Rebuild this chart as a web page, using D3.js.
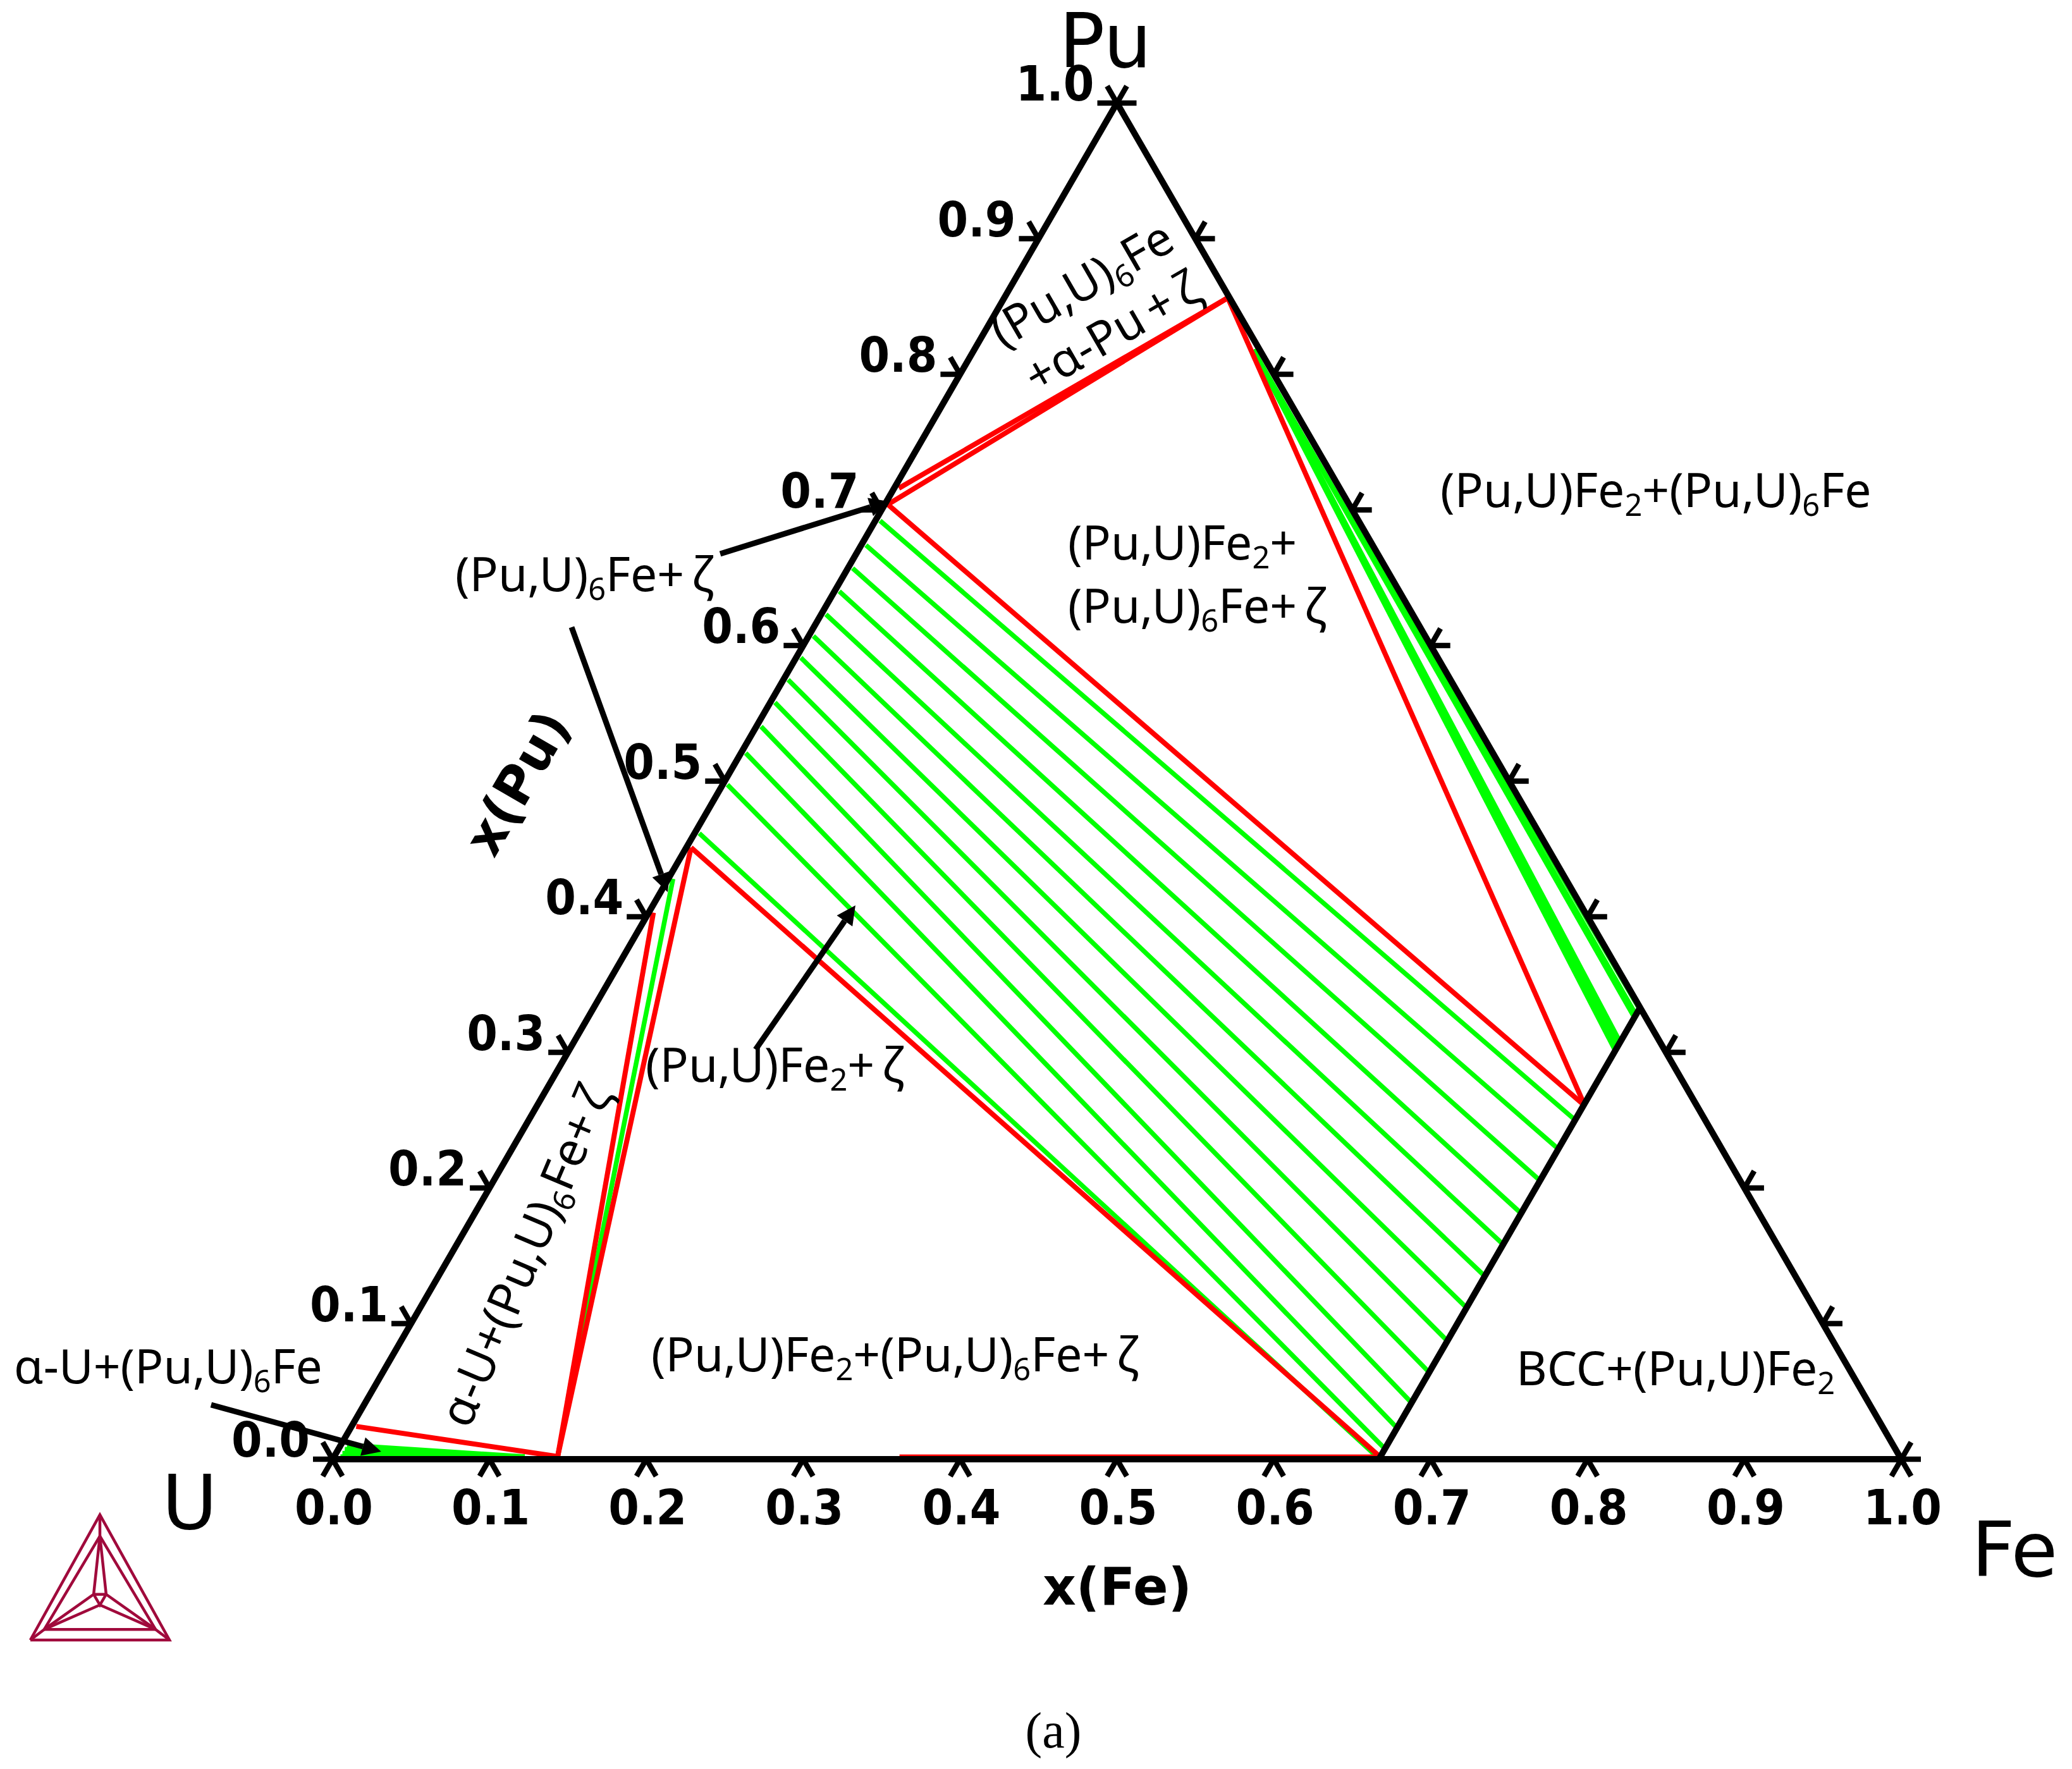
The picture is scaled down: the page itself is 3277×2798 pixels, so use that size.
<!DOCTYPE html>
<html>
<head>
<meta charset="utf-8">
<script src="https://cdn.jsdelivr.net/npm/d3@7"></script>
<style>
  html, body { margin: 0; padding: 0; background: #fff; }
  svg { display: block; }
</style>
</head>
<body>
<svg id="chart"></svg>
<script>
// values, all in mole fraction
const tick_values = [0, 0.1, 0.2, 0.3, 0.4, 0.5, 0.6, 0.7, 0.8, 0.9, 1];

// big three phase band: tie lines from the U-Pu edge to the fe=2/3 line
const band_left_pu = [0.4615, 0.4974, 0.5207, 0.5403, 0.558, 0.5748, 0.591, 0.607, 0.623, 0.64, 0.657, 0.674, 0.692];
const band_right_pu = [0.001, 0.0084, 0.0238, 0.0424, 0.0648, 0.088, 0.1124, 0.1357, 0.1591, 0.182, 0.2061, 0.2294, 0.2508];

// tie lines fanning down the U-free edge, they end on the fe=2/3 line
const fan_right_pu = [0.3025, 0.3055, 0.3085, 0.3265, 0.329, 0.3325];
const fan_widths = [8, 8, 8, 6.5, 6.5, 5];

// small wedge at the U corner
const wedge_left_pu = [0.0105, 0.0075, 0.0045, 0.002];

// other tie lines, [fe, pu] pairs
const green_ties = [[[0.003, 0.428], [0.1425, 0.002]]];

const red_lines = [
  [[0.003, 0.0242], [0.1425, 0.002]],
  [[0.003, 0.403], [0.1425, 0.002]],
  [[0.003, 0.451], [0.1425, 0.002]],
  [[0.003, 0.451], [0.6665, 0.002]],
  [[0.002, 0.704], [0.668, 0.2606]],
  [[0.1425, 0.8564], [0.668, 0.2606]],
  [[0.1425, 0.8564], [0.003, 0.716]],
  [[0.1425, 0.8564], [0.002, 0.704]],
  [[0.36, 0.0028], [0.667, 0.0028]]
];

const frame_lines = [
  [[0, 0], [0, 1]],
  [[0, 1], [1, 0]],
  [[0.667, 0], [0.667, 0.333]]
];

// leader arrows, [fe, pu] start and tip
const arrows = [
  [[-0.0975, 0.0401], [0.0282, 0.0056]],
  [[-0.0867, 0.6676], [0.0012, 0.7063]],
  [[-0.1544, 0.6135], [0.0045, 0.4182]],
  [[0.1186, 0.3021], [0.1291, 0.4084]]
];

// '_' marks a subscript digit
const labels = [
  {text: '(Pu,U)_6Fe', x: 1724, y: 472, rot: -30, anchor: 'middle'},
  {text: '+α-Pu + ζ', x: 1772, y: 548, rot: -30, anchor: 'middle'},
  {text: '(Pu,U)Fe_2+', x: 1689, y: 885},
  {text: '(Pu,U)_6Fe+ ζ', x: 1689, y: 985},
  {text: '(Pu,U)Fe_2+(Pu,U)_6Fe', x: 2278, y: 802},
  {text: '(Pu,U)_6Fe+ ζ', x: 720, y: 935},
  {text: 'α-U+(Pu,U)_6Fe', x: 22, y: 2188},
  {text: 'α-U+(Pu,U)_6Fe+ ζ', x: 742, y: 2262, rot: -67},
  {text: '(Pu,U)Fe_2+ ζ', x: 1021, y: 1711},
  {text: '(Pu,U)Fe_2+(Pu,U)_6Fe+ ζ', x: 1030, y: 2169},
  {text: 'BCC+(Pu,U)Fe_2', x: 2398, y: 2191}
];

// thermo-calc logo, unit coordinates
const logo_lines = [
  [[0, 1], [0.5, 0], [1, 1], [0, 1]],
  [[0.1, 0.915], [0.5, 0.17], [0.9, 0.915], [0.1, 0.915]],
  [[0, 1], [0.1, 0.915]],
  [[1, 1], [0.9, 0.915]],
  [[0.5, 0], [0.5, 0.17]],
  [[0.5, 0.17], [0.455, 0.635], [0.545, 0.635], [0.5, 0.17]],
  [[0.455, 0.635], [0.5, 0.72], [0.545, 0.635]],
  [[0.1, 0.915], [0.455, 0.635]],
  [[0.1, 0.915], [0.5, 0.72]],
  [[0.9, 0.915], [0.545, 0.635]],
  [[0.9, 0.915], [0.5, 0.72]]
];

const W = 3277, H = 2798;
const svg = d3.select('#chart').attr('width', W).attr('height', H).attr('viewBox', `0 0 ${W} ${H}`);
svg.append('rect').attr('width', W).attr('height', H).attr('fill', '#fff');

const x = d3.scaleLinear().domain([0, 1]).range([526, 3007]);
const y = d3.scaleLinear().domain([0, 1]).range([2308, 163]);

// ternary to screen
const px = ([fe, pu]) => x(fe + pu / 2);
const py = ([fe, pu]) => y(pu);
const line = d3.line().x(px).y(py);

function drawLines(parent, rows, color, width) {
  parent.selectAll(null).data(rows).enter().append('path')
    .attr('d', line)
    .attr('fill', 'none')
    .attr('stroke', color)
    .attr('stroke-width', width);
}

const TEXT_FONT = '"Noto Sans", sans-serif';
const BOLD_FONT = '"DejaVu Sans", sans-serif';
const CORNER_FONT = '"DejaVu Sans", sans-serif';

// green tie lines
const greens = svg.append('g');
drawLines(greens, d3.zip(band_left_pu, band_right_pu).map(([l, r]) => [[0.003, l], [0.666, r]]), '#00ff00', 7.5);
drawLines(greens, fan_right_pu.map(r => [[0.178, 0.818], [0.666, r]]), '#00ff00', (d, i) => fan_widths[i]);
drawLines(greens, wedge_left_pu.map(l => [[0.004, l], [0.1215, 0.002]]), '#00ff00', 7);
drawLines(greens, green_ties, '#00ff00', 7.5);

drawLines(svg.append('g'), red_lines.slice(0, 8), '#ff0000', 8);
drawLines(svg.append('g'), red_lines.slice(8), '#ff0000', 3);

// frame
const frame = svg.append('g');
drawLines(frame, frame_lines, '#000', 10);
drawLines(frame, [[[0, 0], [1, 0]]], '#000', 10);

// ticks: every axis has two little strokes at 60 degrees to each other
const TICK = 31, dx60 = TICK * Math.cos(Math.PI / 3), dy60 = TICK * Math.sin(Math.PI / 3);
const axes = [
  {pt: v => [v, 0], strokes: [[-dx60, dy60], [dx60, dy60]]},
  {pt: v => [0, v], strokes: [[-TICK, 0], [-dx60, -dy60]]},
  {pt: v => [1 - v, v], strokes: [[TICK, 0], [dx60, -dy60]]}
];
const ticks = svg.append('g').attr('stroke', '#000').attr('stroke-width', 8.5);
axes.forEach(axis => {
  tick_values.forEach(v => {
    const p = axis.pt(v);
    axis.strokes.forEach(s => {
      ticks.append('line')
        .attr('x1', px(p)).attr('y1', py(p))
        .attr('x2', px(p) + s[0]).attr('y2', py(p) + s[1]);
    });
  });
});

// tick labels, digits in the picture are taller than the font's own shape
const fmt = d3.format('.1f');
const TICK_SIZE = 77, TICK_LEN = 124;
svg.append('g').selectAll('text').data(tick_values).enter().append('text')
  .attr('x', v => px([v, 0]) + 2)
  .attr('y', 2411)
  .attr('text-anchor', 'middle')
  .attr('font-family', BOLD_FONT).attr('font-weight', 'bold').attr('font-size', TICK_SIZE)
  .attr('textLength', TICK_LEN).attr('lengthAdjust', 'spacingAndGlyphs')
  .text(fmt);
svg.append('g').selectAll('text').data(tick_values).enter().append('text')
  .attr('x', v => px([0, v]) - 36)
  .attr('y', v => py([0, v]) - 4)
  .attr('text-anchor', 'end')
  .attr('font-family', BOLD_FONT).attr('font-weight', 'bold').attr('font-size', TICK_SIZE)
  .attr('textLength', TICK_LEN).attr('lengthAdjust', 'spacingAndGlyphs')
  .text(fmt);

// leader arrows
const HEAD_LEN = 30, HEAD_HALF = 15;
const arrow_g = svg.append('g');
arrows.forEach(a => {
  const x0 = px(a[0]), y0 = py(a[0]), x1 = px(a[1]), y1 = py(a[1]);
  const len = Math.hypot(x1 - x0, y1 - y0);
  const ux = (x1 - x0) / len, uy = (y1 - y0) / len;
  const bx = x1 - ux * HEAD_LEN, by = y1 - uy * HEAD_LEN;
  arrow_g.append('line')
    .attr('x1', x0).attr('y1', y0).attr('x2', bx).attr('y2', by)
    .attr('stroke', '#000').attr('stroke-width', 9);
  arrow_g.append('polygon')
    .attr('points', [[x1, y1], [bx - uy * HEAD_HALF, by + ux * HEAD_HALF], [bx + uy * HEAD_HALF, by - ux * HEAD_HALF]].join(' '))
    .attr('fill', '#000');
});

// phase labels
const LABEL_SIZE = 75;
labels.forEach(d => {
  const t = svg.append('text')
    .attr('x', d.x).attr('y', d.y)
    .attr('text-anchor', d.anchor || 'start')
    .attr('font-family', TEXT_FONT).attr('font-size', LABEL_SIZE)
    .attr('word-spacing', -8)
    .attr('fill', '#000');
  if (d.rot) t.attr('transform', `rotate(${d.rot} ${d.x} ${d.y})`);
  d.text.split('_').forEach((part, i) => {
    if (i == 0) {
      t.append('tspan').text(part);
    } else {
      t.append('tspan').attr('font-size', LABEL_SIZE * 0.65).attr('dy', LABEL_SIZE * 0.18).text(part[0]);
      t.append('tspan').attr('dy', -LABEL_SIZE * 0.18).text(part.slice(1));
    }
  });
});

// corners and axis titles
const corners = [['Pu', 1675, 106], ['U', 256, 2418], ['Fe', 3118, 2493]];
svg.append('g').selectAll('text').data(corners).enter().append('text')
  .attr('x', d => d[1]).attr('y', d => d[2])
  .attr('font-family', CORNER_FONT).attr('font-size', 120)
  .text(d => d[0]);

svg.append('text').attr('x', 1767).attr('y', 2538).attr('text-anchor', 'middle')
  .attr('font-family', BOLD_FONT).attr('font-weight', 'bold').attr('font-size', 82)
  .text('x(Fe)');
svg.append('text').attr('transform', 'translate(818 1238) rotate(-60)').attr('dy', '.35em')
  .attr('text-anchor', 'middle')
  .attr('font-family', BOLD_FONT).attr('font-weight', 'bold').attr('font-size', 82)
  .text('x(Pu)');
svg.append('text').attr('x', 1666).attr('y', 2764).attr('text-anchor', 'middle')
  .attr('font-family', '"Liberation Serif", serif').attr('font-size', 80)
  .text('(a)');

// logo
const logo_x = d3.scaleLinear().domain([0, 1]).range([48, 268]);
const logo_y = d3.scaleLinear().domain([0, 1]).range([2396, 2594]);
const logo_line = d3.line().x(d => logo_x(d[0])).y(d => logo_y(d[1]));
svg.append('g').selectAll('path').data(logo_lines).enter().append('path')
  .attr('d', logo_line)
  .attr('fill', 'none')
  .attr('stroke', '#a00a3c')
  .attr('stroke-width', 4.5);
</script>
</body>
</html>
